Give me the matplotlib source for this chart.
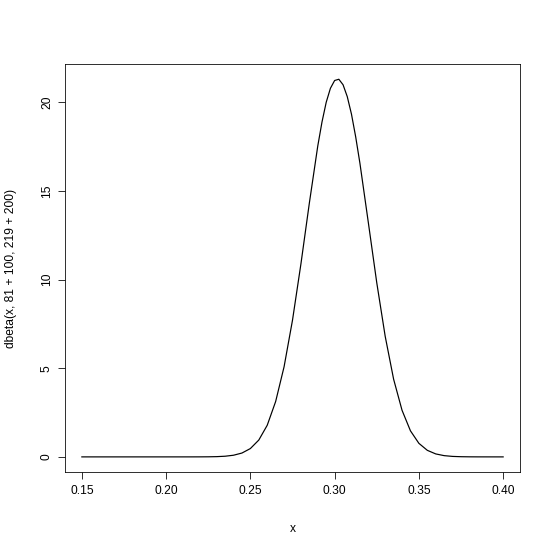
import matplotlib
matplotlib.use('Agg')
import matplotlib.pyplot as plt
from matplotlib import rcParams

rcParams['font.family'] = ['Liberation Sans', 'DejaVu Sans']

# Curve: density of the beta curve over x
x_vals = [0.15, 0.16, 0.17, 0.18, 0.19, 0.20, 0.21, 0.215, 0.22, 0.225,
          0.23, 0.235, 0.24, 0.245, 0.25, 0.255, 0.26, 0.265, 0.27, 0.275,
          0.28, 0.285, 0.29, 0.2925, 0.295, 0.2975, 0.30, 0.3025, 0.305,
          0.3075, 0.31, 0.3125, 0.315, 0.32, 0.325, 0.33, 0.335, 0.34,
          0.345, 0.35, 0.355, 0.36, 0.365, 0.37, 0.375, 0.38, 0.385, 0.39,
          0.395, 0.40]
y_vals = [0.0, 0.0, 0.0, 0.0, 0.0, 0.0, 0.0001, 0.0005, 0.0016, 0.0048,
          0.0139, 0.0373, 0.0933, 0.217, 0.470, 0.949, 1.783, 3.122, 5.080, 7.708,
          10.88, 14.31, 17.53, 18.88, 19.99, 20.78, 21.22, 21.29, 20.98,
          20.31, 19.32, 18.04, 16.56, 13.21, 9.82, 6.80, 4.38, 2.628,
          1.468, 0.764, 0.370, 0.167, 0.070, 0.027, 0.010, 0.0034, 0.001, 0.0003,
          0.0, 0.0]

x_ticks = [0.15, 0.20, 0.25, 0.30, 0.35, 0.40]
y_ticks = [0, 5, 10, 15, 20]

fig = plt.figure(figsize=(554 / 72, 554 / 72), dpi=72)
ax = fig.add_axes([65 / 554, 1 - 472 / 554, 455 / 554, 408 / 554])

ax.plot(x_vals, y_vals, color='black', linewidth=1.2)

ax.set_xlim(0.14, 0.41)
ax.set_ylim(-0.852, 22.15)

ax.set_xticks(x_ticks)
ax.set_xticklabels([f"{t:.2f}" for t in x_ticks])
ax.set_yticks(y_ticks)
ax.set_yticklabels([str(t) for t in y_ticks], rotation=90, va='center')

ax.tick_params(direction='out', length=7, width=0.8, labelsize=12, pad=6)
ax.tick_params(axis='y', pad=5)
for s in ax.spines.values():
    s.set_linewidth(0.8)

ax.set_xlabel("x", fontsize=12, labelpad=26)
ax.set_ylabel("dbeta(x, 81 + 100, 219 + 200)", fontsize=12, labelpad=24)

fig.savefig("out.png", dpi=72)
